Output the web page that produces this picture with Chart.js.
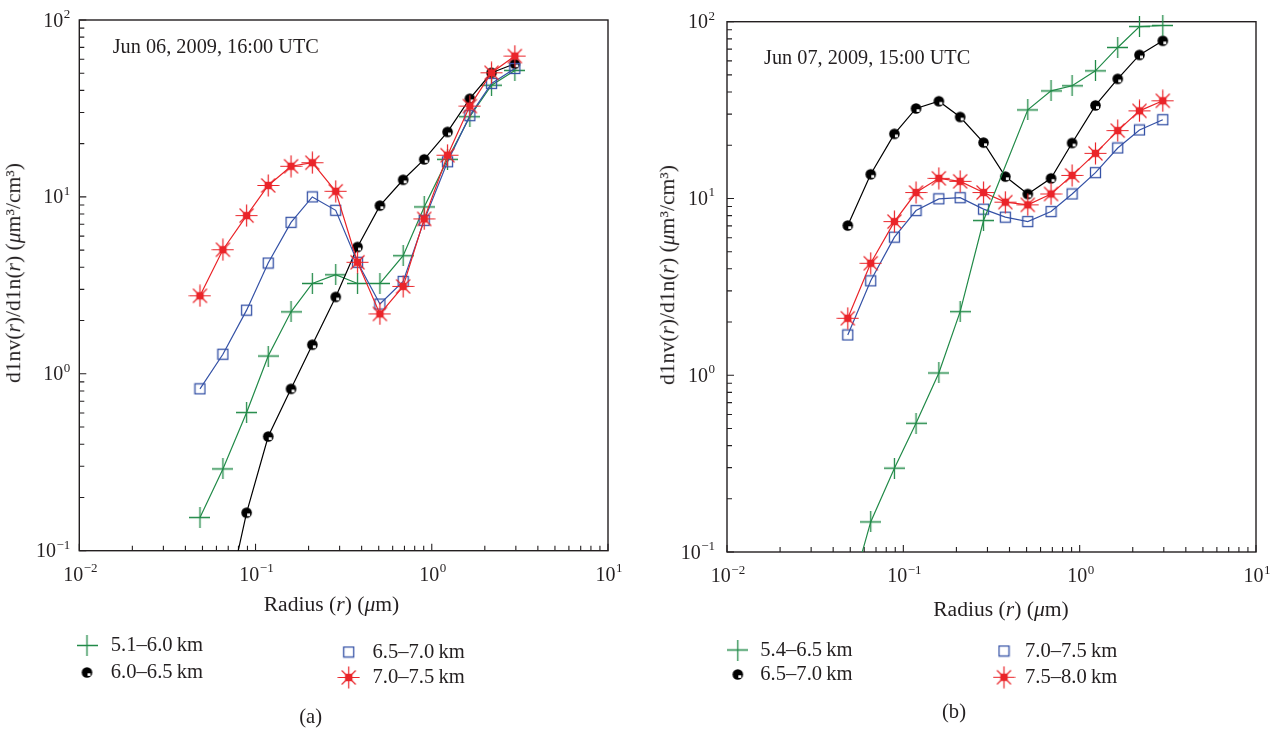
<!DOCTYPE html>
<html><head><meta charset="utf-8">
<script src="https://cdn.jsdelivr.net/npm/chart.js@4.4.1/dist/chart.umd.min.js"></script>
<style>
html,body{margin:0;padding:0;background:#fff;}
body{width:1276px;height:733px;position:relative;overflow:hidden;font-family:"Liberation Serif","Times New Roman",serif;color:#231f20;}
canvas{position:absolute;top:0;}
.t{position:absolute;white-space:nowrap;}
.c{transform:translateX(-50%);}
.rot{transform:translate(-50%,-50%) rotate(-90deg);}
</style></head><body>
<canvas id="ca" width="640" height="733" style="left:0"></canvas>
<canvas id="cb" width="636" height="733" style="left:640px"></canvas>
<script>
// ---------- data ----------
const radii = [0.0484, 0.0653, 0.089, 0.118, 0.159, 0.210, 0.285, 0.379, 0.508, 0.688, 0.906, 1.229, 1.644, 2.184, 2.96];

const titleA = "Jun 06, 2009, 16:00 UTC";
const namesA = ["5.1–6.0\u2009km", "6.0–6.5\u2009km", "6.5–7.0\u2009km", "7.0–7.5\u2009km"];
const a_5160 = [0.154, 0.290, 0.604, 1.26, 2.24, 3.24, 3.63, 3.24, 3.24, 4.65, 8.78, 16.3, 28.4, 42.8, 51.9];
const a_6065 = [null, 0.0405, 0.164, 0.442, 0.822, 1.46, 2.72, 5.21, 8.93, 12.5, 16.3, 23.3, 35.9, 50.3, 56.6];
const a_6570 = [0.822, 1.29, 2.29, 4.23, 7.18, 10.0, 8.40, 4.27, 2.48, 3.33, 7.37, 15.8, 28.8, 43.8, 53.2];
const a_7075 = [2.76, 5.03, 7.84, 11.6, 14.9, 15.6, 10.76, 4.27, 2.18, 3.12, 7.51, 17.2, 32.6, 50.3, 62.5];

const titleB = "Jun 07, 2009, 15:00 UTC";
const namesB = ["5.4–6.5\u2009km", "6.5–7.0\u2009km", "7.0–7.5\u2009km", "7.5–8.0\u2009km"];
const b_5465 = [0.051, 0.148, 0.298, 0.535, 1.03, 2.29, 7.5, null, 31.7, 40.6, 43.4, 52.7, 71.5, 93.9, 95.2];
const b_6570 = [7.03, 13.7, 23.2, 32.3, 35.5, 28.9, 20.7, 13.3, 10.6, 13.0, 20.6, 33.6, 47.5, 64.9, 78.0];
const b_7075 = [1.69, 3.42, 6.04, 8.54, 9.95, 10.1, 8.7, 7.84, 7.40, 8.43, 10.6, 14.0, 19.3, 24.4, 27.9];
const b_7580 = [2.10, 4.30, 7.40, 10.8, 13.0, 12.5, 10.8, 9.53, 9.2, 10.6, 13.5, 18.0, 24.2, 31.3, 35.7];

const xTickValues = [0.01, 0.1, 1, 10];
const xTickExps = ["\u22122", "\u22121", "0", "1"];
const yTickValues = [0.1, 1, 10, 100];
const yTickExps = ["\u22121", "0", "1", "2"];
const xTitleHTML = 'Radius (<i>r</i>) (<i>μ</i>m)';
const yTitleHTML = 'd1nv(<i>r</i>)/d1n(<i>r</i>) (<i>μ</i>m³/cm³)';
const captions = ["(a)", "(b)"];

// ---------- styles ----------
const GREEN = '#218a48', BLACK = '#000000', BLUE = '#3552a6', RED = '#ea2429';
const FRAME = '#231f20';

function mk(w, h, fn){ const c=document.createElement('canvas'); c.width=w; c.height=h; fn(c.getContext('2d')); return c; }
const imgPlus = mk(21,21,g=>{g.strokeStyle=GREEN;g.lineWidth=1.3;g.beginPath();g.moveTo(0,10.5);g.lineTo(21,10.5);g.moveTo(10.5,0);g.lineTo(10.5,21);g.stroke();});
const imgDot = mk(13,13,g=>{g.fillStyle=BLACK;g.beginPath();g.arc(6.5,6.5,5.3,0,Math.PI*2);g.fill();g.fillStyle='#fff';g.fillRect(7,7.3,3,2.6);});
const imgSq = mk(13,13,g=>{g.strokeStyle=BLUE;g.lineWidth=1.3;g.strokeRect(1.5,1.5,10,10);});
const imgStar = mk(23,23,g=>{g.strokeStyle=RED;g.fillStyle=RED;g.lineWidth=1.2;g.beginPath();
  g.moveTo(11.5,0.5);g.lineTo(11.5,22.5);g.moveTo(0.5,11.5);g.lineTo(22.5,11.5);
  g.moveTo(4.5,4.5);g.lineTo(18.5,18.5);g.moveTo(18.5,4.5);g.lineTo(4.5,18.5);g.stroke();
  g.fillRect(7.8,7.8,7.4,7.4);});

function ds(label, vals, color, img, extra){
  return Object.assign({
    label, data: radii.map((r,i)=>({x:r, y:vals[i]})),
    borderColor: color, backgroundColor: color, pointStyle: img, pointRadius: 5,
    borderWidth: 1.2, tension: 0, fill: false,
    clip: {left: 12, top: 12, right: 12, bottom: 0}
  }, extra || {});
}

function drawSup(ctx, exp, x, y, align){
  ctx.font = '20px "Liberation Serif"';
  const wb = ctx.measureText('10').width;
  ctx.font = '13px "Liberation Serif"';
  const we = ctx.measureText(exp).width;
  const total = wb + we + 0.5;
  const x0 = align === 'center' ? x - total/2 : x - total;
  ctx.textAlign = 'left'; ctx.textBaseline = 'alphabetic';
  ctx.font = '20px "Liberation Serif"';
  ctx.fillText('10', x0, y);
  ctx.font = '13px "Liberation Serif"';
  ctx.fillText(exp, x0 + wb + 0.5, y - 8.5);
}

const framePlugin = {
  id: 'frame',
  beforeDatasetsDraw(chart, args, o){
    const {ctx, chartArea: a} = chart;
    const xs = chart.scales.x, ys = chart.scales.y;
    ctx.save();
    ctx.strokeStyle = FRAME; ctx.fillStyle = FRAME;
    ctx.lineWidth = 1.1;
    ctx.beginPath();
    for (let i = 0; i < xTickValues.length; i++){
      const d = xTickValues[i];
      const px = xs.getPixelForValue(d);
      ctx.moveTo(px, a.bottom); ctx.lineTo(px, a.bottom - 7);
      if (i < xTickValues.length - 1) for (let m = 2; m <= 9; m++){
        const p = xs.getPixelForValue(m*d); ctx.moveTo(p, a.bottom); ctx.lineTo(p, a.bottom - 5);
      }
    }
    for (let i = 0; i < yTickValues.length; i++){
      const d = yTickValues[i];
      const py = ys.getPixelForValue(d);
      ctx.moveTo(a.left, py); ctx.lineTo(a.left + 7, py);
      if (i < yTickValues.length - 1) for (let m = 2; m <= 9; m++){
        const p = ys.getPixelForValue(m*d); ctx.moveTo(a.left, p); ctx.lineTo(a.left + 5, p);
      }
    }
    ctx.stroke();
    ctx.lineWidth = 1.4;
    ctx.strokeRect(a.left, a.top, a.right - a.left, a.bottom - a.top);
    for (let i = 0; i < xTickValues.length; i++)
      drawSup(ctx, xTickExps[i], xs.getPixelForValue(xTickValues[i]) + 1, a.bottom + 30, 'center');
    for (let i = 0; i < yTickValues.length; i++)
      drawSup(ctx, yTickExps[i], a.left - o.yGap, ys.getPixelForValue(yTickValues[i]) + 6.5, 'right');
    ctx.restore();
  },
  afterDraw(chart, args, o){
    const ctx = chart.ctx;
    (o.legend || []).forEach(it => {
      ctx.drawImage(it.img, it.x - it.img.width/2, it.y - it.img.height/2);
    });
  }
};

function makeChart(id, pad, datasets, yGap, legend){
  return new Chart(document.getElementById(id), {
    type: 'line',
    data: { datasets },
    options: {
      responsive: false, animation: false, devicePixelRatio: 1,
      layout: { padding: pad },
      plugins: { legend: {display: false}, tooltip: {enabled: false}, frame: { yGap, legend } },
      scales: {
        x: { type: 'logarithmic', min: 0.01, max: 10, display: false },
        y: { type: 'logarithmic', min: 0.1, max: 100, display: false }
      }
    },
    plugins: [framePlugin]
  });
}

makeChart('ca', {left: 79.3, top: 20, right: 32, bottom: 182.3}, [
  ds(namesA[3], a_7075, RED, imgStar),
  ds(namesA[2], a_6570, BLUE, imgSq),
  ds(namesA[1], a_6065, BLACK, imgDot),
  ds(namesA[0], a_5160, GREEN, imgPlus)
], 9, [
  {img: imgPlus, x: 87, y: 645.5}, {img: imgDot, x: 87, y: 672.5},
  {img: imgSq, x: 348.7, y: 652}, {img: imgStar, x: 348.7, y: 677.5}
]);

makeChart('cb', {left: 87, top: 21.7, right: 20, bottom: 181}, [
  ds(namesB[0], b_5465, GREEN, imgPlus, {spanGaps: true}),
  ds(namesB[3], b_7580, RED, imgStar),
  ds(namesB[2], b_7075, BLUE, imgSq),
  ds(namesB[1], b_6570, BLACK, imgDot)
], 12, [
  {img: imgPlus, x: 97.8, y: 650}, {img: imgDot, x: 97.8, y: 674.5},
  {img: imgSq, x: 364, y: 651}, {img: imgStar, x: 364, y: 677.3}
]);

// ---------- HTML text ----------
function addText(html, left, baseline, fs, cls){
  const d = document.createElement('div');
  d.className = 't ' + (cls || '');
  d.innerHTML = html;
  d.style.fontSize = fs + 'px';
  d.style.lineHeight = fs + 'px';
  d.style.left = left + 'px';
  d.style.top = (baseline - ((fs - 1.107*fs)/2 + 0.891*fs)) + 'px';
  document.body.appendChild(d);
  return d;
}
function addRot(html, cx, cy, fs){
  const d = document.createElement('div');
  d.className = 't rot';
  d.innerHTML = html;
  d.style.fontSize = fs + 'px';
  d.style.lineHeight = fs + 'px';
  d.style.left = cx + 'px';
  d.style.top = cy + 'px';
  document.body.appendChild(d);
}
addText(titleA, 112.7, 52.7, 20.3);
addText(titleB, 764, 64.3, 20.3);
addText(xTitleHTML, 331.5, 612.5, 21.6, 'c');
addText(xTitleHTML, 1001, 617, 21.6, 'c');
addRot(yTitleHTML, 13.5, 273, 21.6);
addRot(yTitleHTML, 667.5, 275, 21.6);
addText(namesA[0], 110.8, 651.5, 20.6);
addText(namesA[1], 110.8, 678.5, 20.6);
addText(namesA[2], 372.5, 658, 20.6);
addText(namesA[3], 372.5, 683.3, 20.6);
addText(namesB[0], 760.3, 656, 20.6);
addText(namesB[1], 760.3, 680.7, 20.6);
addText(namesB[2], 1025, 657.3, 20.6);
addText(namesB[3], 1025, 683.3, 20.6);
addText(captions[0], 310.6, 723, 20.6, 'c');
addText(captions[1], 954, 718, 20.6, 'c');
</script>
</body></html>
